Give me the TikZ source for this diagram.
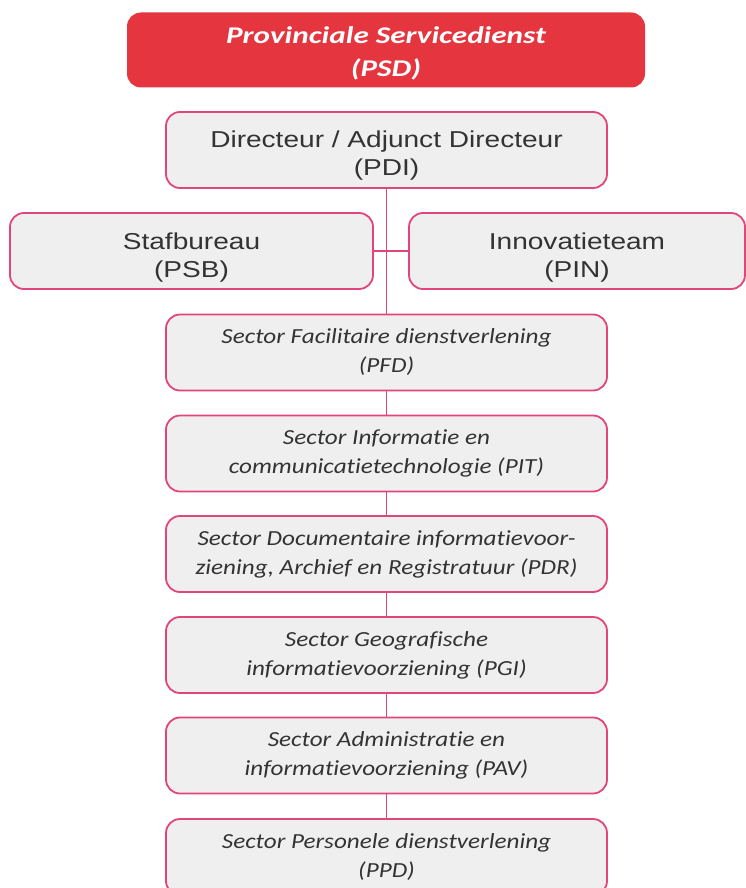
\documentclass[tikz,border=0pt]{standalone}
\usepackage{fontspec}
\setmainfont{Liberation Sans}
\newfontfamily\plainfont[FakeStretch=1.22]{Liberation Sans}
\newfontfamily\secfont[FakeStretch=1.17, Ligatures={NoCommon}]{Carlito}
\newfontfamily\titlefont[FakeStretch=1.3, Ligatures={NoCommon}]{Carlito}
\definecolor{psdred}{HTML}{E5353F}
\definecolor{boxline}{HTML}{E2457A}
\definecolor{boxfill}{HTML}{EFEFEF}
\definecolor{txt}{HTML}{333333}
\tikzset{
  orgbox/.style={draw=boxline, line width=1.8pt, fill=boxfill, rounded corners=14pt,
    align=center, text=txt, inner sep=0pt, minimum height=76pt},
  plainbox/.style={orgbox},
  plaintext/.style={align=center, text=txt, inner sep=0pt, font=\plainfont\fontsize{23}{28}\selectfont},
  secbox/.style={orgbox, minimum width=441pt, font=\secfont\itshape\fontsize{21.5}{29}\selectfont},
  titlebox/.style={fill=psdred, rounded corners=14pt,
    minimum width=518pt, minimum height=75pt, inner sep=0pt},
  titletext/.style={align=center, text=white, inner sep=0pt,
    font=\titlefont\bfseries\itshape\fontsize{24}{33}\selectfont},
  conn/.style={draw=boxline, line width=1.8pt}
}
\begin{document}
\begin{tikzpicture}[x=1pt,y=-1pt]
\useasboundingbox (0,0) rectangle (746,888);
\begin{scope}
\clip (0,0) rectangle (746,888);
\node[titlebox] (psd) at (386,50) {};
\node[titletext] (psd-t) at ([yshift=-3pt]psd.center) {Provinciale Servicedienst\\(PSD)};
\node[plainbox, minimum width=441pt] (pdi) at (386.5,150) {};
\node[plaintext] (pdi-t) at ([yshift=-6pt]pdi.center) {Directeur / Adjunct Directeur\\(PDI)};
\node[plainbox, minimum width=363pt] (psb) at (191.5,251) {};
\node[plaintext] (psb-t) at ([yshift=-7pt]psb.center) {Stafbureau\\(PSB)};
\node[plainbox, minimum width=336pt] (pin) at (577,251) {};
\node[plaintext] (pin-t) at ([yshift=-7pt]pin.center) {Innovatieteam\\(PIN)};
\node[secbox] (pfd) at (386.5,352.5) {Sector Facilitaire dienstverlening\\(PFD)};
\node[secbox] (pit) at (386.5,453.5) {Sector Informatie en\\communicatietechnologie (PIT)};
\node[secbox] (pdr) at (386.5,554) {Sector Documentaire informatievoor-\\ziening, Archief en Registratuur (PDR)};
\node[secbox] (pgi) at (386.5,655) {Sector Geografische\\informatievoorziening (PGI)};
\node[secbox] (pav) at (386.5,755.5) {Sector Administratie en\\informatievoorziening (PAV)};
\node[secbox] (ppd) at (386.5,857) {Sector Personele dienstverlening\\(PPD)};
\draw[conn] (pdi.south) -- (pfd.north);
\draw[conn] (psb.east) -- (pin.west);
\draw[conn] (pfd.south) -- (pit.north);
\draw[conn] (pit.south) -- (pdr.north);
\draw[conn] (pdr.south) -- (pgi.north);
\draw[conn] (pgi.south) -- (pav.north);
\draw[conn] (pav.south) -- (ppd.north);
\end{scope}
\end{tikzpicture}
\end{document}
